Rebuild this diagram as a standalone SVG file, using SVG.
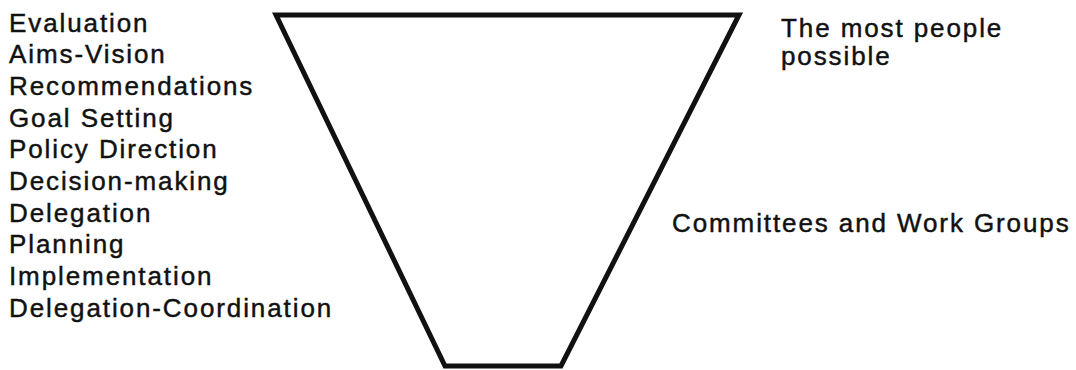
<svg xmlns="http://www.w3.org/2000/svg" width="1076" height="370" viewBox="0 0 1076 370">
<style>
.t{font-family:"Liberation Sans",Arial,Helvetica,sans-serif;font-size:26px;letter-spacing:1.9px;fill:#111;stroke:#111;stroke-width:0.45px}
.shape{fill:none;stroke:#111;stroke-width:5;stroke-linejoin:miter}
</style>
<rect width="1076" height="370" fill="#fff"/>
<g id="funnel">
<polygon class="shape" points="276,15 739,15 561,366 445,366"/>
</g>
<g id="left-labels">
<text class="t" x="9" y="31.5">Evaluation</text>
<text class="t" x="9" y="63.2">Aims-Vision</text>
<text class="t" x="9" y="95">Recommendations</text>
<text class="t" x="9" y="126.7">Goal Setting</text>
<text class="t" x="9" y="158.4">Policy Direction</text>
<text class="t" x="9" y="190">Decision-making</text>
<text class="t" x="9" y="221.7">Delegation</text>
<text class="t" x="9" y="253.4">Planning</text>
<text class="t" x="9" y="285">Implementation</text>
<text class="t" x="9" y="316.8">Delegation-Coordination</text>
</g>
<g id="top-right-label">
<text class="t" x="781" y="36.7">The most people</text>
<text class="t" x="781" y="64.5">possible</text>
</g>
<g id="mid-right-label">
<text class="t" x="672" y="232">Committees and Work Groups</text>
</g>
<g id="connectors"></g>
</svg>
